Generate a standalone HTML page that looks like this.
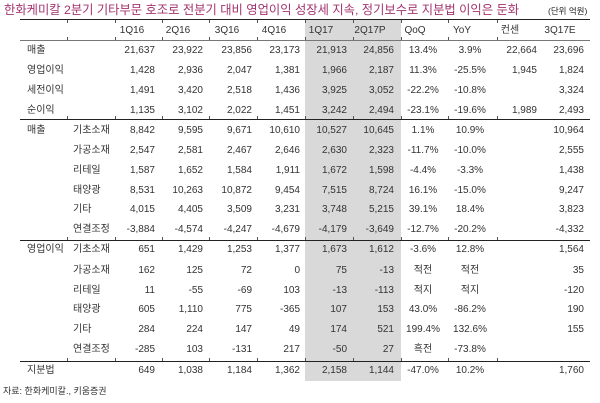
<!DOCTYPE html>
<html><head><meta charset="utf-8"><style>
body{margin:0;width:600px;height:403px;background:#fff;position:relative;overflow:hidden;font-family:"Liberation Sans","Noto Sans CJK KR",sans-serif;color:#333;}
.t{position:absolute;font-size:10px;white-space:nowrap;line-height:12px;}
.r{transform:translateX(-100%);}
.c{transform:translateX(-50%);}
.l{position:absolute;left:20px;width:570px;background:#222;}
.k{position:absolute;width:1px;height:3px;background:#555;}
</style></head><body>
<div class="t" style="left:4px;top:2px;font-size:12.3px;line-height:16px;color:#a3336e;">한화케미칼 2분기 기타부문 호조로 전분기 대비 영업이익 성장세 지속, 정기보수로 지분법 이익은 둔화</div>
<div class="t" style="left:548px;top:5px;font-size:8.5px;color:#222">(단위 억원)</div>
<div style="position:absolute;left:305px;top:20px;width:96px;height:361px;background:#d9d9d9"></div>
<div class="l" style="top:19px;height:1px"></div>
<div class="l" style="top:40px;height:1px;background:#777"></div>
<div class="l" style="top:119px;height:1px"></div>
<div class="l" style="top:240px;height:1px"></div>
<div class="l" style="top:361px;height:1px"></div>
<div id="g"></div>
<div class="t" style="left:3px;top:385px;font-size:9px">자료: 한화케미칼., 키움증권</div>
<script>
const cx=[155,203,252,300,347,394,423,470,537,584];
const al=['r','r','r','r','r','r','c','c','r','r'];
const hd=[[132,'1Q16'],[178,'2Q16'],[227,'3Q16'],[274,'4Q16'],[321,'1Q17'],[370,'2Q17P'],[415,'QoQ'],[462,'YoY'],[510,'컨센'],[560,'3Q17E']];
let h='';
hd.forEach(a=>h+=`<div class="t c" style="left:${a[0]}px;top:25px">${a[1]}</div>`);
[67,115,162,209,257,305,353,401,448,497].forEach(x=>{h+=`<div class="k" style="left:${x}px;top:20px"></div><div class="k" style="left:${x}px;top:37px"></div>`;[119,240,361].forEach(y=>h+=`<div class="k" style="left:${x}px;top:${y-3}px"></div>`)});
const rows=[
[51,'매출','',['21,637','23,922','23,856','23,173','21,913','24,856','13.4%','3.9%','22,664','23,696']],
[71,'영업이익','',['1,428','2,936','2,047','1,381','1,966','2,187','11.3%','-25.5%','1,945','1,824']],
[91,'세전이익','',['1,491','3,420','2,518','1,436','3,925','3,052','-22.2%','-10.8%','','3,324']],
[111,'순이익','',['1,135','3,102','2,022','1,451','3,242','2,494','-23.1%','-19.6%','1,989','2,493']],
[131,'매출','기초소재',['8,842','9,595','9,671','10,610','10,527','10,645','1.1%','10.9%','','10,964']],
[151,'','가공소재',['2,547','2,581','2,467','2,646','2,630','2,323','-11.7%','-10.0%','','2,555']],
[171,'','리테일',['1,587','1,652','1,584','1,911','1,672','1,598','-4.4%','-3.3%','','1,438']],
[191,'','태양광',['8,531','10,263','10,872','9,454','7,515','8,724','16.1%','-15.0%','','9,247']],
[210,'','기타',['4,015','4,405','3,509','3,231','3,748','5,215','39.1%','18.4%','','3,823']],
[230,'','연결조정',['-3,884','-4,574','-4,247','-4,679','-4,179','-3,649','-12.7%','-20.2%','','-4,332']],
[250,'영업이익','기초소재',['651','1,429','1,253','1,377','1,673','1,612','-3.6%','12.8%','','1,564']],
[271,'','가공소재',['162','125','72','0','75','-13','적전','적전','','35']],
[291,'','리테일',['11','-55','-69','103','-13','-113','적지','적지','','-120']],
[310,'','태양광',['605','1,110','775','-365','107','153','43.0%','-86.2%','','190']],
[330,'','기타',['284','224','147','49','174','521','199.4%','132.6%','','155']],
[350,'','연결조정',['-285','103','-131','217','-50','27','흑전','-73.8%','','']],
[371,'지분법','',['649','1,038','1,184','1,362','2,158','1,144','-47.0%','10.2%','','1,760']]];
rows.forEach(r=>{const y=r[0]-6;
h+=`<div class="t" style="left:27px;top:${y}px">${r[1]}</div><div class="t" style="left:73px;top:${y}px">${r[2]}</div>`;
r[3].forEach((v,i)=>{if(v)h+=`<div class="t ${al[i]}" style="left:${cx[i]}px;top:${y}px">${v}</div>`});});
document.getElementById('g').innerHTML=h;
</script>
</body></html>
